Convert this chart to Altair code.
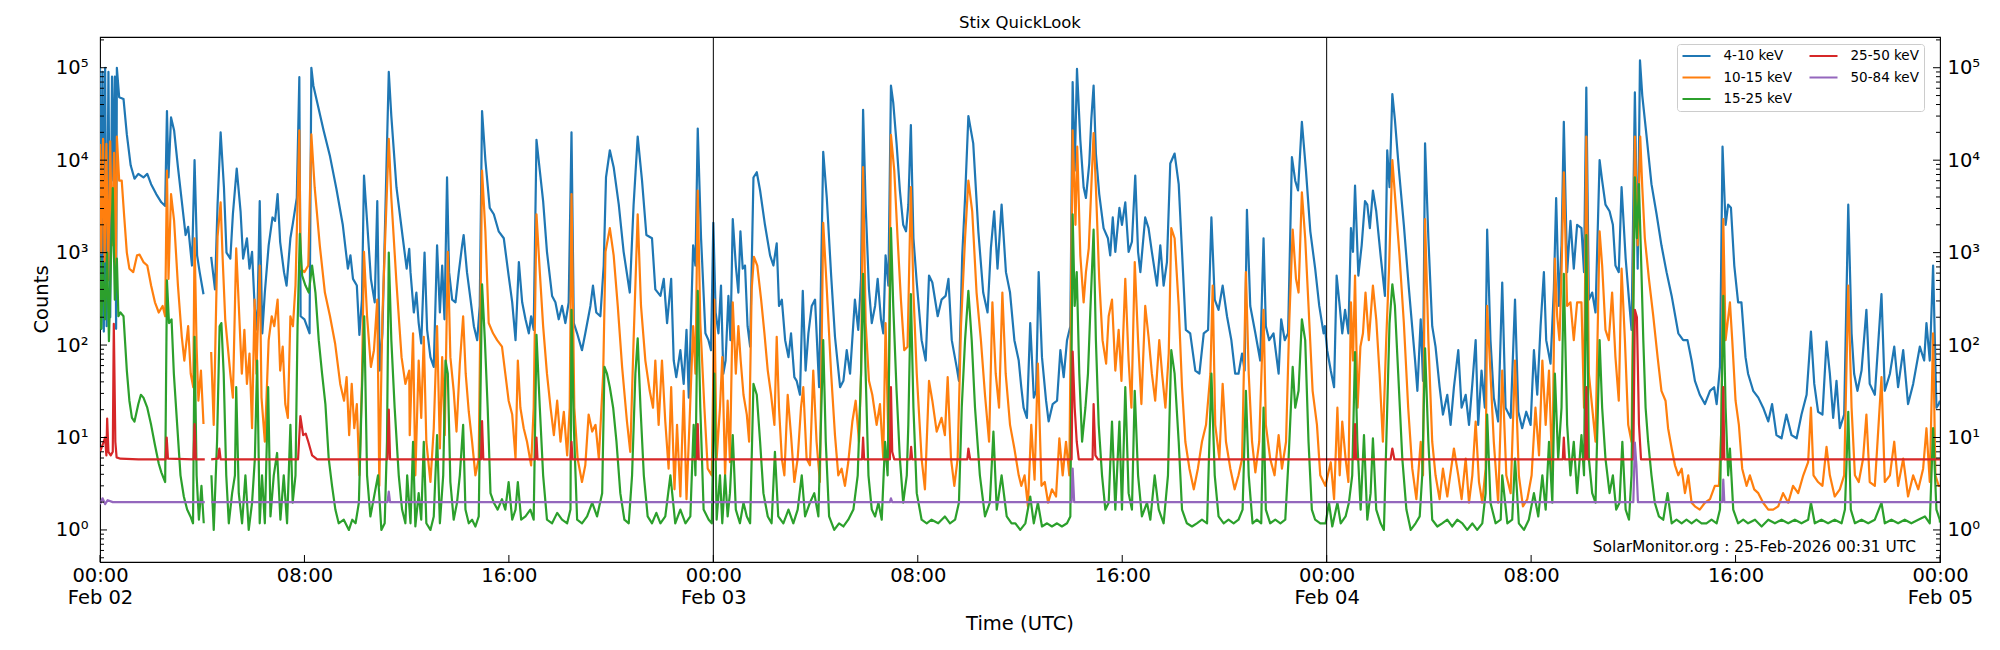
import altair as alt
import pandas as pd

# STIX quick-look light curves, 2026-02-02 00:00 UTC to 2026-02-05 00:00 UTC.
# Each series: (hours since Feb 02 00:00 UTC, counts)

band_4_10 = [
    (0.00, 1.0e5), (0.05, 150), (0.10, 9.0e4), (0.15, 140), (0.20, 1.0e5), (0.26, 160),
    (0.33, 9.0e4), (0.40, 200), (0.47, 8.0e4), (0.53, 6.0e3), (0.58, 8.0e4), (0.63, 150),
    (0.66, 1.0e5), (0.75, 4.8e4), (0.92, 4.6e4), (1.05, 1.9e4), (1.20, 8.8e3), (1.35, 6.3e3),
    (1.50, 7.1e3), (1.70, 6.5e3), (1.85, 7.1e3), (2.00, 5.5e3), (2.20, 4.3e3), (2.40, 3.5e3),
    (2.55, 3.2e3), (2.62, 3.4e4), (2.68, 6.5e3), (2.78, 2.9e4), (2.90, 2.1e4), (3.05, 8.4e3),
    (3.20, 3.6e3), (3.35, 1.55e3), (3.45, 1.9e3), (3.60, 725), (3.70, 1.0e4), (3.80, 935),
    (3.90, 615), (4.05, 355),
    (4.35, 900), (4.50, 400), (4.60, 3.3e3), (4.72, 2.0e4), (4.85, 5.1e3), (4.95, 1.0e3),
    (5.10, 860), (5.20, 2.6e3), (5.35, 8.1e3), (5.50, 2.8e3), (5.60, 860), (5.75, 1.43e3),
    (5.85, 670), (5.95, 1.02e3), (6.05, 265), (6.15, 146), (6.25, 3.6e3), (6.35, 134),
    (6.45, 370), (6.60, 1.2e3), (6.75, 2.4e3), (6.85, 2.2e3), (6.95, 4.3e3), (7.05, 1.3e3),
    (7.20, 615), (7.30, 440), (7.45, 1.43e3), (7.55, 2.1e3), (7.70, 3.9e3), (7.80, 7.9e4),
    (7.85, 205), (8.00, 190), (8.20, 134), (8.27, 1.0e5), (8.35, 6.4e4), (8.50, 4.2e4),
    (8.75, 2.1e4), (9.00, 1.1e4), (9.25, 4.9e3), (9.50, 2.0e3), (9.70, 670), (9.80, 935),
    (9.90, 520), (10.05, 440), (10.15, 129), (10.25, 310), (10.33, 6.8e3), (10.45, 2.2e3),
    (10.60, 520), (10.75, 290), (10.85, 3.6e3), (10.95, 53), (11.05, 134), (11.30, 9.0e4),
    (11.40, 3.0e4), (11.60, 5.1e3), (11.85, 1.43e3), (12.00, 670), (12.10, 1.1e3),
    (12.15, 615), (12.28, 225), (12.38, 370), (12.47, 173), (12.57, 104), (12.70, 1.0e3),
    (12.80, 146), (12.93, 74), (13.06, 58), (13.19, 1.2e3), (13.30, 225), (13.39, 725),
    (13.48, 190), (13.58, 6.5e3), (13.66, 615), (13.78, 310), (13.91, 290), (14.04, 615),
    (14.17, 1.2e3), (14.23, 1.55e3), (14.36, 615), (14.50, 310), (14.63, 160), (14.76, 113),
    (14.86, 265), (14.95, 3.4e4), (15.08, 1.0e4), (15.25, 3.05e3), (15.41, 2.6e3),
    (15.60, 1.7e3), (15.80, 1.43e3), (15.99, 565), (16.13, 290), (16.26, 113), (16.39, 790),
    (16.52, 290), (16.65, 190), (16.78, 134), (16.87, 205), (16.97, 146), (17.08, 1.66e4),
    (17.21, 7.7e3), (17.34, 3.6e3), (17.49, 1.02e3), (17.69, 340), (17.82, 290), (17.95, 190),
    (18.08, 265), (18.21, 173), (18.34, 290), (18.45, 2.0e4), (18.54, 173), (18.67, 134),
    (18.86, 88), (18.99, 134), (19.19, 265), (19.29, 440), (19.42, 225), (19.58, 205),
    (19.71, 725), (19.80, 6.5e3), (19.95, 1.28e4), (20.10, 8.4e3), (20.30, 3.3e3),
    (20.49, 1.02e3), (20.73, 370), (20.88, 3.3e3), (21.04, 1.8e4), (21.21, 6.0e3),
    (21.38, 1.55e3), (21.60, 1.43e3), (21.73, 400), (21.93, 340), (22.06, 520), (22.19, 173),
    (22.35, 520), (22.45, 68), (22.55, 45), (22.71, 88), (22.84, 38), (22.95, 146), (23.04, 27),
    (23.21, 1.2e3), (23.30, 725), (23.39, 2.2e4), (23.52, 1.43e3), (23.69, 134), (23.81, 113),
    (23.91, 88), (24.00, 2.1e3), (24.09, 225), (24.20, 134), (24.30, 440), (24.39, 49),
    (24.48, 68), (24.59, 340), (24.67, 113), (24.76, 2.3e3), (24.88, 725), (24.98, 370),
    (25.06, 1.7e3), (25.15, 670), (25.24, 725), (25.34, 160), (25.44, 96), (25.57, 6.5e3),
    (25.70, 7.4e3), (25.83, 4.7e3), (26.02, 2.0e3), (26.22, 935), (26.35, 725), (26.48, 1.26e3),
    (26.57, 265), (26.68, 310), (26.81, 113), (26.94, 74), (27.04, 134), (27.17, 45),
    (27.26, 41), (27.39, 29), (27.50, 385), (27.61, 53), (27.72, 134), (27.85, 265),
    (27.98, 310), (28.14, 35), (28.30, 1.23e4), (28.44, 3.9e3), (28.61, 565), (28.76, 123),
    (28.96, 35), (29.09, 41), (29.22, 88), (29.35, 49), (29.54, 310), (29.67, 146), (29.78, 520),
    (29.86, 3.5e4), (29.96, 3.3e3), (30.09, 400), (30.20, 173), (30.33, 265), (30.43, 520),
    (30.56, 190), (30.65, 134), (30.74, 935), (30.85, 440), (30.95, 6.4e4), (31.04, 4.2e4),
    (31.17, 1.52e4), (31.30, 4.7e3), (31.43, 2.0e3), (31.54, 1.7e3), (31.63, 3.3e3),
    (31.73, 2.4e4), (31.83, 1.43e3), (31.96, 475), (32.15, 113), (32.31, 68), (32.44, 565),
    (32.57, 475), (32.78, 205), (32.93, 310), (33.09, 340), (33.20, 520), (33.33, 113),
    (33.52, 58), (33.61, 41), (33.74, 935), (33.85, 3.9e3), (33.98, 3.0e4), (34.17, 1.52e4),
    (34.37, 1.7e3), (34.56, 370), (34.73, 225), (34.86, 1.11e3), (34.99, 2.8e3), (35.12, 670),
    (35.28, 3.3e3), (35.45, 615), (35.61, 370), (35.78, 113), (35.95, 68), (36.05, 35),
    (36.14, 21), (36.27, 16.3), (36.40, 173), (36.54, 27), (36.63, 32), (36.73, 615),
    (36.86, 74), (37.02, 25), (37.12, 14.9), (37.28, 23), (37.45, 25), (37.58, 88), (37.71, 45),
    (37.84, 113), (37.97, 160), (38.06, 7.0e4), (38.14, 7.7e3), (38.23, 9.7e4), (38.36, 1.66e4),
    (38.49, 5.1e3), (38.58, 3.9e3), (38.71, 9.2e3), (38.79, 2.75e4), (38.88, 6.4e4),
    (38.97, 1.18e4), (39.10, 4.3e3), (39.27, 1.84e3), (39.44, 1.43e3), (39.53, 935),
    (39.63, 2.4e3), (39.73, 1.02e3), (39.89, 3.05e3), (39.99, 2.0e3), (40.12, 3.5e3),
    (40.25, 1.02e3), (40.38, 1.31e3), (40.51, 6.8e3), (40.62, 1.02e3), (40.71, 615),
    (40.90, 2.4e3), (41.03, 1.84e3), (41.16, 1.02e3), (41.36, 440), (41.49, 1.2e3), (41.62, 440),
    (41.75, 790), (41.88, 9.2e3), (42.05, 1.18e4), (42.21, 5.5e3), (42.34, 1.02e3), (42.49, 146),
    (42.66, 134), (42.86, 53), (43.02, 49), (43.19, 134), (43.36, 146), (43.49, 2.4e3),
    (43.62, 310), (43.77, 240), (43.93, 440), (44.10, 205), (44.27, 113), (44.42, 49),
    (44.55, 49), (44.69, 81), (44.79, 53), (44.88, 2.9e3), (45.01, 265), (45.21, 134),
    (45.40, 68), (45.53, 1.43e3), (45.62, 160), (45.75, 113), (45.92, 134), (46.12, 49),
    (46.22, 190), (46.36, 113), (46.49, 134), (46.64, 1.08e4), (46.77, 6.0e3), (46.88, 4.7e3),
    (47.03, 2.6e4), (47.19, 7.7e3), (47.36, 1.7e3), (47.55, 670), (47.71, 265), (47.88, 134),
    (47.93, 160), (48.02, 88), (48.16, 53), (48.29, 35), (48.39, 565), (48.51, 265),
    (48.61, 134), (48.72, 240), (48.85, 134), (48.95, 1.84e3), (49.03, 1.02e3), (49.11, 5.3e3),
    (49.24, 565), (49.37, 1.2e3), (49.50, 3.6e3), (49.59, 3.3e3), (49.69, 1.84e3),
    (49.81, 4.7e3), (49.94, 2.8e3), (50.11, 935), (50.28, 340), (50.37, 1.28e4), (50.46, 5.1e3),
    (50.57, 5.2e4), (50.67, 2.75e4), (50.83, 7.7e3), (51.02, 2.0e3), (51.22, 400), (51.46, 68),
    (51.55, 32), (51.68, 190), (51.77, 41), (51.85, 1.52e4), (51.98, 1.43e3), (52.13, 160),
    (52.26, 96), (52.42, 35), (52.55, 17.7), (52.72, 29), (52.85, 13.7), (52.98, 35),
    (53.15, 88), (53.28, 21), (53.44, 29), (53.57, 13.7), (53.70, 38), (53.83, 113),
    (53.93, 13.7), (54.06, 53), (54.19, 21), (54.28, 1.77e3), (54.41, 113), (54.54, 27),
    (54.71, 14.9), (54.87, 475), (55.00, 21), (55.20, 16.3), (55.37, 310), (55.50, 19),
    (55.65, 12.6), (55.81, 19), (55.98, 13.7), (56.11, 88), (56.24, 29), (56.37, 160),
    (56.50, 615), (56.59, 113), (56.76, 63), (56.89, 400), (56.98, 3.9e3), (57.09, 265),
    (57.19, 1.2e3), (57.28, 2.6e4), (57.41, 615), (57.54, 2.2e3), (57.67, 670), (57.80, 2.0e3),
    (57.97, 1.84e3), (58.07, 615), (58.16, 6.1e4), (58.26, 310), (58.39, 370), (58.52, 225),
    (58.68, 1.0e4), (58.78, 6.0e3), (58.91, 3.3e3), (59.07, 2.8e3), (59.20, 2.0e3),
    (59.30, 725), (59.43, 615), (59.54, 5.1e3), (59.70, 860), (59.83, 310), (59.93, 146),
    (60.06, 5.4e4), (60.17, 670), (60.26, 1.2e5), (60.35, 5.0e4), (60.52, 1.8e4), (60.71, 5.5e3),
    (60.91, 2.6e3), (61.10, 1.2e3), (61.30, 615), (61.50, 340), (61.76, 134), (61.95, 113),
    (62.12, 113), (62.28, 68), (62.41, 41), (62.60, 29), (62.80, 23), (63.00, 32), (63.16, 35),
    (63.26, 23), (63.39, 58), (63.49, 1.4e4), (63.61, 2.0e3), (63.71, 3.3e3), (63.82, 3.05e3),
    (63.95, 725), (64.10, 290), (64.23, 290), (64.39, 74), (64.49, 49), (64.69, 32), (64.89, 27),
    (65.08, 21), (65.28, 14.9), (65.43, 23), (65.60, 10.6), (65.80, 9.8), (65.99, 17.7),
    (66.19, 10.6), (66.39, 9.8), (66.58, 17.7), (66.78, 29), (66.95, 140), (67.08, 38),
    (67.23, 19), (67.40, 17.7), (67.56, 109), (67.69, 49), (67.82, 16.3), (67.95, 41),
    (68.08, 12.6), (68.25, 17.7), (68.41, 3.3e3), (68.54, 134), (68.64, 49), (68.77, 32),
    (68.93, 53), (69.12, 240), (69.25, 38), (69.45, 29), (69.71, 355), (69.84, 32), (70.04, 49),
    (70.21, 96), (70.36, 35), (70.56, 88), (70.75, 23), (70.95, 38), (71.21, 96), (71.38, 68),
    (71.47, 173), (71.60, 68), (71.73, 725), (71.86, 21), (71.95, 23), (72.00, 25),
]

band_10_15 = [
    (0.00, 1.5e4), (0.05, 1.0e3), (0.12, 1.7e4), (0.18, 800), (0.25, 1.5e4), (0.32, 500),
    (0.40, 1.6e4), (0.47, 1.2e3), (0.55, 1.2e4), (0.62, 600), (0.66, 1.8e4), (0.75, 6.0e3),
    (0.85, 6.0e3), (0.95, 2.4e3), (1.05, 1.0e3), (1.15, 670), (1.30, 615), (1.45, 935),
    (1.55, 950), (1.70, 790), (1.85, 725), (2.00, 440), (2.15, 290), (2.30, 225), (2.45, 265),
    (2.55, 205), (2.62, 7.7e3), (2.68, 520), (2.78, 4.3e3), (2.90, 2.2e3), (3.05, 440),
    (3.20, 123), (3.30, 68), (3.45, 160), (3.55, 49), (3.65, 35), (3.70, 1.43e3), (3.78, 96),
    (3.85, 25), (3.95, 53), (4.05, 14),
    (4.35, 84), (4.45, 13.7), (4.60, 1.49e3), (4.72, 3.5e3), (4.80, 860), (4.90, 190),
    (5.00, 96), (5.10, 49), (5.20, 27), (5.33, 1.11e3), (5.45, 205), (5.55, 49), (5.65, 146),
    (5.75, 38), (5.85, 81), (5.95, 12.6), (6.05, 310), (6.12, 49), (6.25, 725), (6.32, 27),
    (6.45, 9.0), (6.60, 113), (6.72, 205), (6.82, 160), (6.95, 310), (7.05, 53), (7.15, 96),
    (7.25, 23), (7.35, 16.3), (7.45, 205), (7.55, 160), (7.65, 440), (7.80, 2.1e4), (7.85, 670),
    (8.00, 615), (8.15, 725), (8.27, 1.9e4), (8.40, 5.1e3), (8.60, 1.2e3), (8.80, 370),
    (9.00, 205), (9.20, 104), (9.40, 38), (9.55, 25), (9.65, 45), (9.75, 10.6), (9.85, 38),
    (9.95, 12.6), (10.05, 23), (10.15, 3.9), (10.25, 41), (10.33, 1.02e3), (10.45, 205),
    (10.60, 58), (10.72, 88), (10.85, 310), (10.93, 3.0), (11.05, 205), (11.30, 1.7e4),
    (11.40, 3.9e3), (11.60, 475), (11.80, 74), (11.95, 38), (12.10, 53), (12.12, 10.6),
    (12.25, 134), (12.34, 3.9), (12.47, 68), (12.57, 16.3), (12.67, 123), (12.77, 9.0),
    (12.93, 3.3), (13.06, 12.6), (13.19, 160), (13.30, 7.6), (13.39, 74), (13.49, 10.6),
    (13.61, 1.02e3), (13.71, 74), (13.84, 32), (13.95, 11.6), (14.08, 63), (14.21, 205),
    (14.31, 49), (14.43, 19), (14.56, 9.0), (14.69, 3.9), (14.82, 5.9), (14.95, 7.7e3),
    (15.08, 1.7e3), (15.21, 173), (15.38, 134), (15.54, 113), (15.73, 96), (15.86, 49),
    (15.99, 25), (16.13, 17.7), (16.26, 5.9), (16.35, 68), (16.45, 21), (16.58, 12.6),
    (16.71, 9.0), (16.87, 5.0), (16.97, 21), (17.08, 2.6e3), (17.21, 615), (17.34, 160),
    (17.49, 49), (17.63, 21), (17.76, 10.6), (17.89, 25), (18.02, 9.0), (18.15, 19),
    (18.28, 6.4), (18.38, 21), (18.45, 4.3e3), (18.56, 21), (18.69, 5.9), (18.86, 3.3),
    (18.99, 5.0), (19.12, 17.7), (19.26, 11.6), (19.39, 13.7), (19.52, 5.9), (19.69, 49),
    (19.78, 1.02e3), (19.95, 1.84e3), (20.10, 935), (20.26, 265), (20.43, 58), (20.62, 14.9),
    (20.75, 7.0), (20.88, 113), (21.04, 2.6e3), (21.17, 265), (21.34, 68), (21.51, 32),
    (21.64, 21), (21.73, 68), (21.86, 13.7), (21.99, 68), (22.12, 14.9), (22.25, 4.6),
    (22.35, 35), (22.48, 2.75), (22.58, 13.7), (22.71, 2.3), (22.84, 32), (22.95, 2.15),
    (23.08, 17.7), (23.21, 160), (23.30, 49), (23.39, 4.7e3), (23.49, 173), (23.65, 21),
    (23.78, 4.6), (23.94, 3.9), (24.04, 310), (24.13, 5.9), (24.26, 21), (24.35, 74),
    (24.46, 3.9), (24.56, 25), (24.65, 5.4), (24.76, 290), (24.88, 49), (24.98, 160),
    (25.07, 68), (25.18, 29), (25.31, 17.7), (25.40, 9.0), (25.50, 400), (25.59, 900),
    (25.72, 725), (25.87, 310), (26.00, 134), (26.13, 53), (26.26, 29), (26.39, 13.7),
    (26.48, 123), (26.57, 21), (26.68, 5.9), (26.78, 3.9), (26.91, 29), (27.04, 10.6),
    (27.17, 3.3), (27.30, 5.9), (27.43, 21), (27.52, 35), (27.65, 5.9), (27.78, 5.0),
    (27.91, 53), (28.04, 9.0), (28.17, 3.3), (28.30, 2.1e3), (28.44, 400), (28.61, 49),
    (28.76, 10.6), (28.89, 3.9), (29.02, 4.6), (29.15, 3.0), (29.28, 5.4), (29.44, 14.9),
    (29.57, 25), (29.70, 9.0), (29.78, 49), (29.86, 8.4e3), (29.96, 173), (30.09, 41),
    (30.22, 29), (30.39, 13.7), (30.52, 23), (30.65, 5.9), (30.74, 173), (30.85, 9.0),
    (30.95, 1.88e4), (31.08, 7.7e3), (31.21, 1.43e3), (31.34, 310), (31.47, 88), (31.60, 96),
    (31.73, 5.1e3), (31.83, 370), (31.96, 49), (32.15, 5.9), (32.28, 2.75), (32.44, 41),
    (32.57, 25), (32.74, 11.6), (32.93, 16.3), (33.06, 10.6), (33.17, 45), (33.30, 5.9),
    (33.43, 3.0), (33.56, 5.9), (33.69, 160), (33.85, 1.43e3), (33.98, 6.0e3), (34.13, 2.8e3),
    (34.30, 370), (34.47, 113), (34.63, 29), (34.79, 9.0), (34.92, 290), (35.05, 49),
    (35.18, 21), (35.31, 370), (35.44, 49), (35.61, 13.7), (35.78, 7.6), (35.95, 3.9),
    (36.05, 3.0), (36.18, 3.9), (36.31, 1.8), (36.44, 13.7), (36.57, 3.5), (36.70, 63),
    (36.84, 3.0), (36.97, 3.3), (37.10, 1.97), (37.25, 2.75), (37.41, 2.3), (37.54, 9.8),
    (37.67, 3.9), (37.80, 9.0), (37.93, 3.9), (38.06, 2.1e4), (38.17, 2.0e3), (38.24, 1.4e4),
    (38.36, 935), (38.49, 290), (38.58, 615), (38.69, 1.11e3), (38.79, 5.1e3), (38.88, 1.96e4),
    (38.97, 5.1e3), (39.10, 520), (39.23, 113), (39.37, 63), (39.47, 205), (39.60, 310),
    (39.73, 53), (39.86, 146), (39.97, 41), (40.12, 520), (40.25, 68), (40.36, 21), (40.49, 790),
    (40.62, 113), (40.75, 23), (40.90, 265), (41.03, 123), (41.16, 49), (41.29, 25),
    (41.45, 113), (41.56, 49), (41.69, 21), (41.82, 81), (41.92, 1.84e3), (42.05, 1.43e3),
    (42.21, 265), (42.34, 35), (42.47, 9.0), (42.63, 4.6), (42.80, 2.75), (42.96, 4.6),
    (43.12, 9.0), (43.28, 13.7), (43.45, 49), (43.54, 440), (43.64, 13.7), (43.80, 5.9),
    (43.93, 38), (44.06, 9.0), (44.23, 4.6), (44.40, 2.75), (44.55, 3.9), (44.69, 5.9),
    (44.84, 615), (44.95, 49), (45.08, 9.0), (45.21, 4.2), (45.36, 9.0), (45.53, 240),
    (45.62, 13.7), (45.79, 5.9), (45.96, 3.9), (46.12, 10.6), (46.25, 4.6), (46.41, 9.0),
    (46.54, 190), (46.67, 1.77e3), (46.80, 520), (46.90, 370), (47.03, 4.5e3), (47.16, 1.43e3),
    (47.29, 265), (47.45, 32), (47.62, 13.7), (47.75, 3.9), (47.95, 3.0), (48.16, 5.4),
    (48.29, 2.15), (48.42, 21), (48.51, 3.9), (48.61, 14.9), (48.74, 5.9), (48.85, 3.3),
    (48.95, 290), (49.03, 68), (49.11, 565), (49.21, 21), (49.32, 96), (49.42, 134),
    (49.52, 370), (49.65, 113), (49.81, 440), (49.94, 190), (50.07, 49), (50.20, 9.0),
    (50.33, 113), (50.44, 670), (50.57, 1.0e4), (50.70, 3.3e3), (50.85, 935), (51.02, 173),
    (51.19, 21), (51.35, 4.6), (51.51, 2.15), (51.68, 9.0), (51.77, 3.9), (51.85, 2.3e3),
    (51.98, 113), (52.13, 9.0), (52.26, 3.9), (52.42, 2.15), (52.55, 4.6), (52.72, 2.3),
    (52.85, 4.2), (52.98, 7.6), (53.15, 3.9), (53.28, 2.15), (53.44, 5.9), (53.57, 1.97),
    (53.70, 3.9), (53.83, 14.9), (53.96, 3.3), (54.09, 1.97), (54.22, 4.6), (54.28, 265),
    (54.41, 49), (54.54, 9.0), (54.71, 1.97), (54.87, 53), (55.03, 3.9), (55.20, 2.5),
    (55.37, 68), (55.52, 3.9), (55.68, 1.8), (55.85, 2.15), (56.02, 3.9), (56.17, 21),
    (56.31, 6.4), (56.44, 68), (56.57, 13.7), (56.70, 53), (56.83, 3.9), (56.93, 860),
    (57.02, 205), (57.11, 113), (57.19, 615), (57.28, 7.4e3), (57.41, 265), (57.54, 290),
    (57.67, 113), (57.80, 290), (57.97, 290), (58.07, 21), (58.16, 1.8e4), (58.26, 49),
    (58.39, 21), (58.52, 9.0), (58.68, 1.7e3), (58.78, 725), (58.91, 146), (59.04, 113),
    (59.17, 370), (59.30, 74), (59.43, 25), (59.54, 670), (59.67, 113), (59.80, 13.7),
    (59.93, 9.0), (60.06, 1.8e4), (60.17, 1.2e3), (60.27, 1.8e4), (60.35, 5.1e3), (60.45, 1.43e3),
    (60.61, 520), (60.78, 205), (60.95, 74), (61.10, 32), (61.26, 25), (61.36, 12.6),
    (61.50, 7.6), (61.63, 5.0), (61.76, 3.9), (61.89, 4.6), (62.02, 2.5), (62.15, 3.9),
    (62.28, 1.97), (62.41, 1.8), (62.60, 1.66), (62.80, 1.97), (63.00, 2.15), (63.19, 3.0),
    (63.35, 3.0), (63.45, 13.7), (63.52, 2.3e3), (63.61, 113), (63.78, 290), (63.87, 113),
    (64.00, 25), (64.13, 13.7), (64.26, 4.6), (64.43, 3.0), (64.56, 3.9), (64.73, 2.75),
    (64.89, 2.5), (65.08, 1.97), (65.28, 1.66), (65.47, 1.66), (65.67, 1.8), (65.86, 2.5),
    (66.06, 1.97), (66.25, 3.0), (66.45, 2.5), (66.65, 3.9), (66.84, 5.4), (66.95, 21),
    (67.05, 3.9), (67.23, 3.3), (67.40, 3.0), (67.56, 7.9), (67.69, 3.9), (67.88, 2.3),
    (68.08, 2.75), (68.25, 3.9), (68.41, 440), (68.54, 21), (68.67, 3.9), (68.82, 3.3),
    (68.99, 5.9), (69.12, 17.7), (69.25, 3.3), (69.45, 3.0), (69.71, 45), (69.84, 3.3),
    (70.04, 3.9), (70.21, 9.0), (70.36, 3.0), (70.56, 5.9), (70.75, 2.3), (70.95, 3.9),
    (71.15, 2.75), (71.34, 4.6), (71.47, 12.6), (71.60, 3.3), (71.73, 134), (71.82, 3.9),
    (71.95, 3.0), (72.00, 3.0),
]

band_15_25 = [
    (0.00, 900), (0.05, 150), (0.12, 800), (0.20, 190), (0.28, 1.0e3), (0.35, 110),
    (0.50, 5.0e3), (0.58, 310), (0.66, 860), (0.72, 205), (0.80, 225), (0.92, 205), (1.05, 53),
    (1.15, 25), (1.25, 16.3), (1.35, 14.9), (1.50, 23), (1.60, 29), (1.70, 27), (1.85, 21),
    (2.00, 13.7), (2.15, 8.3), (2.30, 5.2), (2.40, 4.2), (2.55, 3.3), (2.62, 500), (2.70, 173),
    (2.80, 190), (2.89, 49), (3.02, 13.7), (3.15, 3.9), (3.28, 2.3), (3.41, 1.66), (3.54, 1.4),
    (3.64, 1.18), (3.70, 123), (3.78, 3.9), (3.87, 1.29), (3.97, 3.0), (4.06, 1.18),
    (4.36, 3.9), (4.45, 1.0), (4.58, 9.0), (4.68, 160), (4.75, 173), (4.84, 49), (4.94, 3.9),
    (5.04, 1.18), (5.17, 2.5), (5.28, 3.9), (5.33, 35), (5.43, 2.5), (5.56, 1.18), (5.69, 3.9),
    (5.82, 1.0), (5.95, 1.97), (6.06, 5.9), (6.15, 68), (6.25, 1.18), (6.34, 3.9), (6.45, 1.18),
    (6.58, 35), (6.67, 1.4), (6.80, 3.9), (6.93, 6.8), (7.06, 1.29), (7.19, 3.9), (7.32, 1.18),
    (7.45, 13.7), (7.54, 1.97), (7.65, 3.9), (7.73, 160), (7.82, 1.6e3), (7.91, 565),
    (8.04, 440), (8.17, 370), (8.30, 725), (8.43, 370), (8.56, 113), (8.69, 49), (8.82, 23),
    (8.95, 5.9), (9.08, 3.0), (9.21, 1.66), (9.34, 1.18), (9.54, 1.29), (9.74, 1.0),
    (9.87, 1.29), (10.00, 1.18), (10.13, 1.97), (10.23, 21), (10.34, 205), (10.45, 3.9),
    (10.58, 1.4), (10.75, 2.5), (10.88, 3.9), (11.01, 1.0), (11.14, 1.18), (11.23, 9.0),
    (11.30, 1.0e3), (11.40, 113), (11.53, 21), (11.69, 3.9), (11.82, 1.66), (11.95, 1.18),
    (12.02, 3.9), (12.15, 1.18), (12.25, 9.0), (12.34, 1.09), (12.47, 2.5), (12.57, 1.29),
    (12.67, 9.0), (12.77, 1.18), (12.93, 1.0), (13.06, 1.4), (13.19, 10.6), (13.30, 1.18),
    (13.43, 3.9), (13.52, 68), (13.61, 49), (13.71, 3.3), (13.84, 1.29), (13.97, 1.97),
    (14.08, 3.9), (14.21, 13.7), (14.30, 1.66), (14.43, 1.18), (14.56, 1.29), (14.69, 1.09),
    (14.82, 1.4), (14.95, 455), (15.06, 113), (15.17, 21), (15.28, 2.5), (15.41, 1.97),
    (15.56, 1.66), (15.73, 2.15), (15.86, 1.66), (15.99, 3.3), (16.13, 1.29), (16.26, 1.66),
    (16.35, 3.3), (16.48, 1.29), (16.65, 1.4), (16.84, 1.66), (16.97, 1.29), (17.08, 129),
    (17.21, 21), (17.34, 3.9), (17.49, 1.29), (17.69, 1.18), (17.89, 1.53), (18.08, 1.29),
    (18.28, 1.18), (18.41, 1.66), (18.45, 240), (18.54, 13.7), (18.67, 1.29), (18.86, 1.18),
    (19.06, 1.4), (19.26, 1.97), (19.45, 1.4), (19.65, 2.5), (19.74, 58), (19.84, 49),
    (19.95, 35), (20.08, 21), (20.21, 9.0), (20.36, 2.5), (20.52, 1.29), (20.69, 1.18),
    (20.82, 3.9), (20.95, 49), (21.04, 118), (21.15, 21), (21.28, 3.9), (21.43, 1.4),
    (21.60, 1.18), (21.77, 1.53), (21.93, 1.18), (22.12, 1.4), (22.32, 3.9), (22.51, 1.18),
    (22.71, 1.66), (22.91, 1.18), (23.10, 1.4), (23.23, 13.7), (23.30, 3.9), (23.39, 385),
    (23.49, 21), (23.62, 1.66), (23.82, 1.29), (23.94, 1.18), (24.04, 49), (24.13, 1.29),
    (24.26, 3.9), (24.35, 1.18), (24.46, 3.9), (24.56, 1.4), (24.65, 2.5), (24.76, 10.6),
    (24.88, 1.66), (25.04, 1.18), (25.18, 1.97), (25.31, 1.4), (25.44, 1.18), (25.57, 38),
    (25.70, 29), (25.83, 9.0), (25.96, 2.5), (26.13, 1.4), (26.28, 1.18), (26.41, 7.0),
    (26.54, 1.4), (26.74, 1.18), (26.94, 1.66), (27.13, 1.18), (27.30, 1.66), (27.46, 3.9),
    (27.59, 1.4), (27.78, 1.97), (27.95, 2.5), (28.11, 1.4), (28.30, 113), (28.40, 9.0),
    (28.53, 1.4), (28.73, 1.0), (28.92, 1.18), (29.09, 1.09), (29.28, 1.29), (29.48, 1.66),
    (29.65, 3.9), (29.78, 49), (29.86, 590), (29.96, 49), (30.07, 3.9), (30.20, 1.66),
    (30.33, 1.4), (30.46, 1.97), (30.59, 1.29), (30.72, 9.0), (30.82, 3.9), (30.95, 1.84e3),
    (31.04, 265), (31.17, 32), (31.30, 5.9), (31.43, 1.97), (31.57, 3.9), (31.63, 13.7),
    (31.73, 355), (31.83, 21), (31.96, 2.5), (32.15, 1.29), (32.35, 1.18), (32.54, 1.29),
    (32.80, 1.18), (33.06, 1.4), (33.26, 1.18), (33.46, 1.29), (33.61, 1.97), (33.72, 21),
    (33.85, 113), (33.98, 385), (34.11, 113), (34.24, 21), (34.43, 3.9), (34.63, 1.4),
    (34.82, 1.97), (34.96, 11.6), (35.09, 1.66), (35.28, 3.9), (35.48, 1.4), (35.67, 1.18),
    (35.82, 1.18), (36.01, 1.0), (36.21, 1.18), (36.40, 2.3), (36.54, 1.18), (36.70, 1.97),
    (36.86, 1.09), (37.06, 1.18), (37.25, 1.09), (37.45, 1.18), (37.64, 1.09), (37.84, 1.18),
    (37.97, 1.4), (38.06, 2.6e3), (38.14, 265), (38.22, 615), (38.32, 49), (38.43, 9.0),
    (38.56, 21), (38.66, 49), (38.75, 225), (38.88, 1.77e3), (38.97, 113), (39.08, 13.7),
    (39.21, 3.9), (39.34, 1.66), (39.47, 1.97), (39.60, 14.9), (39.73, 1.66), (39.89, 14.9),
    (39.99, 1.66), (40.12, 35), (40.25, 2.5), (40.38, 1.66), (40.49, 32), (40.62, 3.9),
    (40.77, 1.4), (40.97, 1.97), (41.10, 1.29), (41.27, 3.9), (41.43, 1.66), (41.62, 1.18),
    (41.79, 3.9), (41.92, 88), (42.05, 49), (42.21, 9.0), (42.34, 1.66), (42.53, 1.18),
    (42.73, 1.09), (42.92, 1.18), (43.12, 1.29), (43.32, 1.18), (43.49, 49), (43.62, 3.9),
    (43.77, 1.4), (43.97, 1.18), (44.16, 1.29), (44.36, 1.18), (44.55, 1.29), (44.71, 1.66),
    (44.84, 32), (44.95, 3.9), (45.10, 1.18), (45.27, 1.29), (45.44, 1.18), (45.53, 21),
    (45.62, 1.66), (45.79, 1.18), (45.99, 1.29), (46.19, 1.18), (46.38, 1.29), (46.51, 5.9),
    (46.67, 58), (46.77, 21), (46.90, 32), (47.03, 190), (47.16, 113), (47.29, 9.0),
    (47.42, 1.66), (47.55, 1.29), (47.75, 1.18), (47.96, 1.18), (48.09, 1.97), (48.22, 1.09),
    (48.42, 1.97), (48.55, 1.18), (48.74, 1.4), (48.87, 1.97), (49.00, 3.9), (49.11, 84),
    (49.20, 9.0), (49.33, 1.66), (49.46, 10.6), (49.59, 1.29), (49.72, 2.5), (49.81, 9.8),
    (49.94, 1.66), (50.11, 1.18), (50.24, 1.0), (50.37, 21), (50.46, 173), (50.57, 455),
    (50.67, 265), (50.80, 49), (50.96, 5.9), (51.12, 1.66), (51.29, 1.0), (51.48, 1.18),
    (51.64, 1.4), (51.74, 3.9), (51.85, 92), (51.98, 9.0), (52.13, 1.29), (52.33, 1.09),
    (52.52, 1.18), (52.72, 1.29), (52.91, 1.09), (53.11, 1.29), (53.31, 1.18), (53.50, 1.0),
    (53.70, 1.18), (53.89, 1.0), (54.09, 1.18), (54.22, 2.5), (54.28, 17.7), (54.41, 1.97),
    (54.61, 1.18), (54.81, 1.29), (54.87, 3.9), (55.07, 1.18), (55.26, 1.29), (55.37, 5.9),
    (55.52, 1.18), (55.72, 1.0), (55.91, 1.29), (56.11, 2.5), (56.28, 1.4), (56.44, 3.9),
    (56.57, 1.66), (56.70, 9.0), (56.83, 1.97), (56.93, 49), (57.06, 5.9), (57.19, 21),
    (57.28, 590), (57.41, 13.7), (57.54, 3.9), (57.67, 9.0), (57.80, 2.5), (57.97, 10.6),
    (58.07, 3.9), (58.16, 1.55e3), (58.26, 5.9), (58.39, 2.5), (58.52, 1.97), (58.68, 113),
    (58.78, 21), (58.91, 5.9), (59.07, 2.5), (59.20, 3.9), (59.33, 1.66), (59.46, 1.97),
    (59.57, 9.0), (59.70, 1.66), (59.83, 1.29), (59.93, 3.9), (60.06, 6.5e3), (60.14, 1.43e3),
    (60.22, 5.5e3), (60.30, 935), (60.39, 113), (60.48, 21), (60.58, 9.0), (60.71, 3.9),
    (60.84, 1.97), (61.00, 1.4), (61.17, 1.29), (61.34, 2.5), (61.50, 1.18), (61.69, 1.29),
    (61.89, 1.18), (62.08, 1.29), (62.28, 1.18), (62.47, 1.29), (62.67, 1.18), (62.86, 1.18),
    (63.06, 1.29), (63.26, 1.18), (63.39, 1.66), (63.45, 21), (63.52, 340), (63.61, 21),
    (63.71, 3.9), (63.78, 7.6), (63.91, 1.66), (64.10, 1.18), (64.30, 1.29), (64.49, 1.18),
    (64.76, 1.29), (65.02, 1.09), (65.28, 1.29), (65.54, 1.18), (65.80, 1.29), (66.06, 1.18),
    (66.32, 1.29), (66.58, 1.18), (66.84, 1.29), (66.95, 1.97), (67.10, 1.18), (67.36, 1.29),
    (67.62, 1.18), (67.88, 1.29), (68.15, 1.18), (68.28, 1.66), (68.41, 19), (68.51, 1.66),
    (68.67, 1.18), (68.93, 1.29), (69.19, 1.18), (69.45, 1.29), (69.71, 1.97), (69.84, 1.18),
    (70.10, 1.29), (70.36, 1.18), (70.62, 1.29), (70.88, 1.18), (71.15, 1.29), (71.41, 1.4),
    (71.60, 1.18), (71.73, 12.6), (71.86, 1.66), (71.99, 1.29), (72.00, 1.2),
]

band_25_50 = [
    (0.00, 7.0), (0.10, 8.3), (0.20, 10.0), (0.25, 6.4), (0.28, 16), (0.33, 7.0), (0.42, 6.4),
    (0.50, 7.0), (0.54, 170), (0.60, 9.0), (0.65, 6.1), (0.80, 5.9), (1.50, 5.8), (2.57, 5.8),
    (2.61, 10), (2.66, 5.9), (3.66, 5.8), (3.70, 14), (3.75, 5.8), (4.10, 5.8),
    (4.35, 5.8), (4.62, 5.9), (4.67, 7.6), (4.72, 5.8), (7.75, 5.8), (7.84, 17), (7.95, 10.6),
    (8.05, 11), (8.15, 9.0), (8.30, 6.4), (8.50, 5.8), (11.25, 5.8), (11.30, 20), (11.35, 5.8),
    (14.91, 5.8), (14.95, 15), (15.00, 5.8), (17.04, 5.8), (17.08, 10), (17.12, 5.8),
    (18.41, 5.8), (18.45, 9.0), (18.49, 5.8), (23.35, 5.8), (23.39, 14), (23.43, 5.8),
    (29.82, 5.8), (29.86, 10), (29.90, 5.8), (30.91, 5.8), (30.95, 35), (31.00, 7.0),
    (31.08, 5.8), (31.70, 5.8), (31.74, 7.9), (31.78, 5.8), (33.94, 5.8), (33.98, 7.6),
    (34.05, 5.8), (38.02, 5.8), (38.06, 85), (38.14, 21), (38.22, 9.0), (38.30, 5.8),
    (38.84, 5.8), (38.88, 23), (38.95, 6.4), (39.05, 5.8), (49.07, 5.8), (49.11, 14),
    (49.15, 5.8), (50.50, 5.8), (50.57, 7.6), (50.65, 5.8), (57.24, 5.8), (57.28, 10),
    (57.32, 5.8), (58.12, 5.8), (58.16, 35), (58.20, 5.8), (60.00, 5.8), (60.06, 240),
    (60.14, 200), (60.22, 14), (60.30, 5.8), (63.48, 5.8), (63.52, 35), (63.56, 5.8),
    (72.00, 5.8),
]

band_50_84 = [
    (0.00, 1.9), (0.10, 2.2), (0.20, 1.9), (0.30, 2.1), (0.50, 2.0), (4.10, 2.0),
    (4.35, 2.0), (11.25, 2.0), (11.30, 2.6), (11.35, 2.0), (30.91, 2.0), (30.95, 2.2),
    (31.00, 2.0), (38.02, 2.0), (38.06, 4.6), (38.12, 2.0), (60.00, 2.0), (60.06, 8.8),
    (60.12, 5.0), (60.18, 2.0), (63.48, 2.0), (63.52, 3.5), (63.56, 2.0), (72.00, 2.0),
]

BANDS = ["4-10 keV", "10-15 keV", "15-25 keV", "25-50 keV", "50-84 keV"]
COLORS = ["#1f77b4", "#ff7f0e", "#2ca02c", "#d62728", "#9467bd"]
SERIES = [band_4_10, band_10_15, band_15_25, band_25_50, band_50_84]

DAY_LINES = [24, 48]                 # Feb 03 and Feb 04 00:00
X_TICKS = list(range(0, 73, 8))      # every 8 hours
Y_MAJOR = [1, 10, 100, 1e3, 1e4, 1e5]
Y_MINOR = [m * 10.0 ** k for k in range(-1, 6) for m in range(2, 10)
           if 0.45 <= m * 10.0 ** k <= 2.15e5]

GAP_START = 4.2  # telemetry gap splits every curve into two segments

rows = []
for band, pts in zip(BANDS, SERIES):
    for h, c in pts:
        rows.append({"band": band, "hour": h, "counts": c, "seg": int(h >= GAP_START)})
df = pd.DataFrame(rows)

W, H = 1840, 525
FONT = "DejaVu Sans"

x_scale = alt.Scale(domain=[0, 72], nice=False, zero=False)
y_scale = alt.Scale(type="log", domain=[0.45, 2.15e5], nice=False)

SUP = "['\u2070','\u00b9','\u00b2','\u00b3','\u2074','\u2075']"
y_label_expr = f"'10' + {SUP}[round(log(datum.value) / LN10)]"
x_label_expr = ("datum.value % 24 == 0 ? ['00:00', 'Feb 0' + (2 + datum.value / 24)] : "
                "(datum.value % 24 == 8 ? '08:00' : '16:00')")

x_axis = alt.Axis(values=X_TICKS, labelExpr=x_label_expr, ticks=False, domain=False,
                  grid=False, title=None, labelFont=FONT, labelFontSize=19.5,
                  labelColor="black", labelPadding=4, labelBaseline="top",
                  labelLineHeight=22, labelFlush=False, labelOverlap=False, labelBound=False)
y_axis_left = alt.Axis(orient="left", values=Y_MAJOR, labelExpr=y_label_expr, ticks=False,
                       domain=False, grid=False, title=None, labelFont=FONT,
                       labelFontSize=19.5, labelColor="black", labelPadding=12,
                       labelOverlap=False, labelBound=False, labelFlush=False)
y_axis_right = alt.Axis(orient="right", values=Y_MAJOR, labelExpr=y_label_expr, ticks=False,
                        domain=False, grid=False, title=None, labelFont=FONT,
                        labelFontSize=19.5, labelColor="black", labelPadding=7,
                        labelOverlap=False, labelBound=False, labelFlush=False)

# legend entries fill column by column: 4-10 / 10-15 / 15-25, then 25-50 / 50-84
color_scale = alt.Scale(domain=BANDS, range=COLORS)
legend = alt.Legend(title=None, orient="none", legendX=1577, legendY=7, columns=2,
                    symbolType="stroke", symbolStrokeWidth=2, symbolSize=784,
                    clipHeight=15, labelFont=FONT, labelFontSize=13.5, labelColor="black",
                    fillColor="rgba(255,255,255,0.8)", strokeColor="#cccccc",
                    cornerRadius=3, padding=4.5, rowPadding=6.5, columnPadding=16,
                    labelOffset=12)

line_layers = []
for i, band in enumerate(BANDS):
    first = i == 0
    line_layers.append(
        alt.Chart(df).transform_filter(alt.datum.band == band)
        .mark_line(strokeWidth=2.2, strokeJoin="round", clip=True)
        .encode(
            x=alt.X("hour:Q", scale=x_scale, axis=x_axis if first else None),
            y=alt.Y("counts:Q", scale=y_scale, axis=y_axis_left if first else None),
            color=alt.Color("band:N", scale=color_scale, legend=legend),
            detail="seg:N",
        )
    )

day_df = pd.DataFrame({"hour": DAY_LINES})
day_lines = alt.Chart(day_df).mark_rule(color="black", strokeWidth=1).encode(
    x=alt.X("hour:Q", scale=x_scale, axis=None), y=alt.value(0), y2=alt.value(H))

xt_df = pd.DataFrame({"hour": X_TICKS})
x_ticks = alt.Chart(xt_df).mark_rule(color="black", strokeWidth=1).encode(
    x=alt.X("hour:Q", scale=x_scale, axis=None), y=alt.value(H), y2=alt.value(H - 7))

ymaj_df = pd.DataFrame({"v": Y_MAJOR})
ymin_df = pd.DataFrame({"v": Y_MINOR})


def y_ticks(frame, x0, x1, axis=None):
    return alt.Chart(frame).mark_rule(color="black", strokeWidth=1).encode(
        y=alt.Y("v:Q", scale=y_scale, axis=axis), x=alt.value(x0), x2=alt.value(x1))


left_major = y_ticks(ymaj_df, 0, 7)
left_minor = y_ticks(ymin_df, 0, 4)
right_minor = y_ticks(ymin_df, W, W - 4)
right_major = y_ticks(ymaj_df, W, W - 7, axis=y_axis_right)


def text_layer(txt, x, y, size, align="center", angle=0):
    return alt.Chart(pd.DataFrame({"t": [txt]})).mark_text(
        font=FONT, fontSize=size, color="black", align=align, baseline="middle", angle=angle
    ).encode(text="t:N", x=alt.value(x), y=alt.value(y))


title_txt = text_layer("Stix QuickLook", W / 2, -14, 16.5)
x_title = text_layer("Time (UTC)", W / 2, 587, 19.5)
y_title = text_layer("Counts", -58, H / 2, 19.5, angle=270)
stamp = text_layer("SolarMonitor.org : 25-Feb-2026 00:31 UTC", 1816, 510, 15.4, align="right")

chart = (
    alt.layer(*line_layers, day_lines, x_ticks, left_major, left_minor, right_minor,
              right_major, title_txt, x_title, y_title, stamp)
    .resolve_axis(x="independent", y="independent")
    .properties(width=W, height=H, autosize=alt.AutoSizeParams(type="none"),
                padding={"left": 100, "top": 37, "right": 60, "bottom": 88},
                background="white")
    .configure_view(stroke="black", strokeWidth=1.1)
)

chart.save("out.html", embed_options={"renderer": "svg", "actions": False})
